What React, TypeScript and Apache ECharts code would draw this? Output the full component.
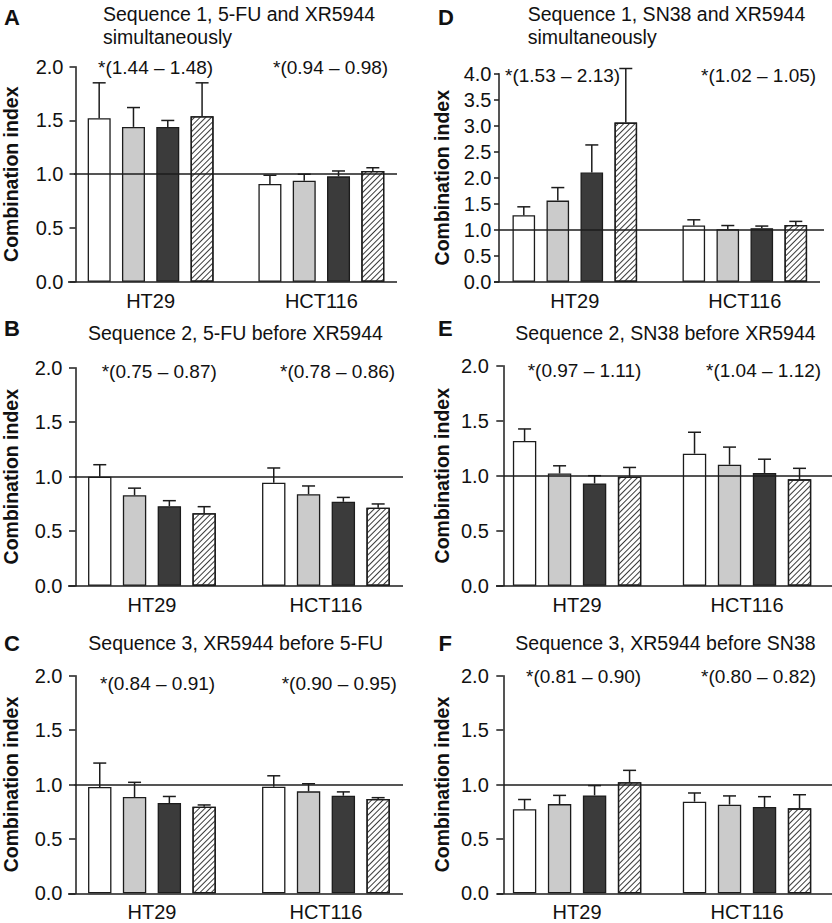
import React, { useEffect, useRef } from "react";
import * as echarts from "echarts";

// ---------- data ----------
const cellLines = ["HT29", "HCT116"];
const yName = "Combination index";
const letters = ["A", "D", "B", "E", "C", "F"];
const titles = [
  "Sequence 1, 5-FU and XR5944\nsimultaneously",
  "Sequence 1, SN38 and XR5944\nsimultaneously",
  "Sequence 2, 5-FU before XR5944",
  "Sequence 2, SN38 before XR5944",
  "Sequence 3, XR5944 before 5-FU",
  "Sequence 3, XR5944 before SN38",
];
const annotations = [
  ["*(1.44 – 1.48)", "*(0.94 – 0.98)"],
  ["*(1.53 – 2.13)", "*(1.02 – 1.05)"],
  ["*(0.75 – 0.87)", "*(0.78 – 0.86)"],
  ["*(0.97 – 1.11)", "*(1.04 – 1.12)"],
  ["*(0.84 – 0.91)", "*(0.90 – 0.95)"],
  ["*(0.81 – 0.90)", "*(0.80 – 0.82)"],
];
const yMax = [2, 4, 2, 2, 2, 2];

// Panel A
const meanA_HT29 = [1.52, 1.44, 1.44, 1.54];
const errA_HT29 = [0.33, 0.18, 0.06, 0.31];
const meanA_HCT116 = [0.91, 0.94, 0.98, 1.03];
const errA_HCT116 = [0.08, 0.06, 0.05, 0.03];
// Panel D
const meanD_HT29 = [1.28, 1.56, 2.1, 3.06];
const errD_HT29 = [0.16, 0.25, 0.53, 1.04];
const meanD_HCT116 = [1.08, 1.01, 1.03, 1.09];
const errD_HCT116 = [0.11, 0.07, 0.04, 0.07];
// Panel B
const meanB_HT29 = [1.0, 0.83, 0.73, 0.665];
const errB_HT29 = [0.11, 0.065, 0.05, 0.06];
const meanB_HCT116 = [0.945, 0.84, 0.77, 0.715];
const errB_HCT116 = [0.135, 0.075, 0.04, 0.035];
// Panel E
const meanE_HT29 = [1.315, 1.02, 0.93, 0.99];
const errE_HT29 = [0.11, 0.07, 0.07, 0.085];
const meanE_HCT116 = [1.2, 1.1, 1.025, 0.967];
const errE_HCT116 = [0.195, 0.16, 0.125, 0.1];
// Panel C
const meanC_HT29 = [0.977, 0.885, 0.83, 0.796];
const errC_HT29 = [0.22, 0.135, 0.06, 0.016];
const meanC_HCT116 = [0.98, 0.937, 0.897, 0.867];
const errC_HCT116 = [0.1, 0.07, 0.035, 0.012];
// Panel F
const meanF_HT29 = [0.772, 0.82, 0.9, 1.02];
const errF_HT29 = [0.09, 0.08, 0.09, 0.11];
const meanF_HCT116 = [0.842, 0.815, 0.793, 0.781];
const errF_HCT116 = [0.08, 0.08, 0.095, 0.125];

const panelMeans = [
  [meanA_HT29, meanA_HCT116],
  [meanD_HT29, meanD_HCT116],
  [meanB_HT29, meanB_HCT116],
  [meanE_HT29, meanE_HCT116],
  [meanC_HT29, meanC_HCT116],
  [meanF_HT29, meanF_HCT116],
];
const panelErrs = [
  [errA_HT29, errA_HCT116],
  [errD_HT29, errD_HCT116],
  [errB_HT29, errB_HCT116],
  [errE_HT29, errE_HCT116],
  [errC_HT29, errC_HCT116],
  [errF_HT29, errF_HCT116],
];

// ---------- layout (pixels) ----------
const LAYOUT = [
  { gridLeft: 63.75, gridWidth: 343, top: 66.7, height: 215, axisX: 74, tickLen: 6, labelMargin: 12, nameGap: 54.5, barW: 23, pitch: 34.3, refStart: 74, refEnd: 397, baseStart: 68, baseEnd: 397, letterX: 4, letterY: 17, titleX: 103, titleY: 25.5, annY: 67, annX: [98, 273] },
  { gridLeft: 489.8, gridWidth: 340, top: 73.7, height: 208, axisX: 499, tickLen: 5, labelMargin: 7.5, nameGap: 47, barW: 22.6, pitch: 34, refStart: 499, refEnd: 824, baseStart: 494, baseEnd: 820, letterX: 438, letterY: 17, titleX: 527.7, titleY: 25.5, annY: 75, annX: [505, 701] },
  { gridLeft: 63.95, gridWidth: 349, top: 367.7, height: 218, axisX: 74.5, tickLen: 6.5, labelMargin: 13, nameGap: 54.5, barW: 23.4, pitch: 34.8, refStart: 74.5, refEnd: 403, baseStart: 68, baseEnd: 403, letterX: 4, letterY: 328.3, titleX: 88, titleY: 332.7, annY: 371.7, annX: [101.7, 280] },
  { gridLeft: 492.1, gridWidth: 349.6, top: 365.7, height: 220, axisX: 503.3, tickLen: 7, labelMargin: 14.5, nameGap: 51.3, barW: 23.4, pitch: 35, refStart: 503.3, refEnd: 832, baseStart: 496, baseEnd: 832, letterX: 438, letterY: 328, titleX: 515.3, titleY: 332.7, annY: 370.7, annX: [527.7, 706] },
  { gridLeft: 63.95, gridWidth: 349, top: 675.7, height: 217.6, axisX: 74.5, tickLen: 6.5, labelMargin: 13, nameGap: 54.5, barW: 23.4, pitch: 34.8, refStart: 74.5, refEnd: 403, baseStart: 68, baseEnd: 403, letterX: 4, letterY: 643.3, titleX: 88.3, titleY: 642.7, annY: 683.3, annX: [100, 281.7] },
  { gridLeft: 492.1, gridWidth: 349.6, top: 675.7, height: 217.6, axisX: 503.3, tickLen: 7, labelMargin: 14.5, nameGap: 51.3, barW: 23.4, pitch: 35, refStart: 503.3, refEnd: 832, baseStart: 497, baseEnd: 832, letterX: 438.5, letterY: 643.3, titleX: 515.3, titleY: 642.7, annY: 676.7, annX: [526, 701] },
];

const FONT = '"Liberation Sans", Arial, Helvetica, sans-serif';
const INK = "#111111";
const EDGE = "#1c1c1c";
const FILLS = ["#ffffff", "#cbcbcb", "#3b3b3b", "#ffffff"];
const HATCH = {
  symbol: "rect",
  symbolSize: 1,
  dashArrayX: [1, 0],
  dashArrayY: [1, 2.4],
  rotation: -Math.PI / 4,
  color: "#3a3a3a",
  backgroundColor: "#ffffff",
};

function buildOption() {
  const grid: any[] = [];
  const xAxis: any[] = [];
  const yAxis: any[] = [];
  const series: any[] = [];
  const graphic: any[] = [];

  LAYOUT.forEach((L, i) => {
    grid.push({ left: L.gridLeft, top: L.top, width: L.gridWidth, height: L.height });
    xAxis.push({
      type: "category",
      gridIndex: i,
      data: cellLines,
      axisLine: { show: false },
      axisTick: { show: false },
      splitLine: { show: false },
      axisLabel: { interval: 0, color: INK, fontSize: 20, fontFamily: FONT, margin: 9 },
    });
    yAxis.push({
      type: "value",
      gridIndex: i,
      min: 0,
      max: yMax[i],
      interval: 0.5,
      offset: L.gridLeft - L.axisX,
      axisLine: { show: true, lineStyle: { color: EDGE, width: 1.5 } },
      axisTick: { show: true, inside: false, length: L.tickLen, lineStyle: { color: EDGE, width: 1.5 } },
      splitLine: { show: false },
      axisLabel: {
        color: INK,
        fontSize: 20,
        fontFamily: FONT,
        margin: L.labelMargin,
        formatter: (v: number) => v.toFixed(1),
      },
      name: yName,
      nameLocation: "middle",
      nameGap: L.nameGap,
      nameTextStyle: { fontWeight: "bold", fontSize: 19.5, color: INK, fontFamily: FONT },
    });

    const means = panelMeans[i];
    const errs = panelErrs[i];
    const gapPct = ((L.pitch - L.barW) / L.barW) * 100 + "%";
    for (let k = 0; k < 4; k++) {
      const s: any = {
        type: "bar",
        xAxisIndex: i,
        yAxisIndex: i,
        data: [means[0][k], means[1][k]],
        barWidth: L.barW,
        barGap: gapPct,
        silent: true,
        z: 2,
        itemStyle: {
          color: FILLS[k],
          borderColor: EDGE,
          borderWidth: 1.3,
        },
      };
      if (k === 3) s.itemStyle.decal = HATCH;
      if (k === 0) {
        s.markLine = {
          silent: true,
          symbol: ["none", "none"],
          label: { show: false },
          lineStyle: { type: "solid", color: EDGE, width: 1.5 },
          emphasis: { disabled: true },
          data: [
            [
              { xAxis: 0, yAxis: 1, x: L.refStart },
              { xAxis: 1, yAxis: 1, x: L.refEnd },
            ],
            [
              { xAxis: 0, yAxis: 0, x: L.baseStart },
              { xAxis: 1, yAxis: 0, x: L.baseEnd },
            ],
          ],
        };
      }
      series.push(s);
    }

    const errData: number[][] = [];
    for (let c = 0; c < 2; c++) {
      for (let k = 0; k < 4; k++) {
        errData.push([c, means[c][k], errs[c][k], k]);
      }
    }
    const pitch = L.pitch;
    series.push({
      type: "custom",
      xAxisIndex: i,
      yAxisIndex: i,
      data: errData,
      encode: { x: 0, y: 1 },
      silent: true,
      clip: false,
      z: 3,
      renderItem: (params: any, api: any) => {
        const cat = api.value(0);
        const mean = api.value(1);
        const err = api.value(2);
        const k = api.value(3);
        const b = api.coord([cat, mean]);
        const t = api.coord([cat, mean + err]);
        const x = b[0] + (k - 1.5) * pitch;
        return {
          type: "group",
          children: [
            { type: "line", shape: { x1: x, y1: b[1], x2: x, y2: t[1] }, style: { stroke: EDGE, lineWidth: 1.5 } },
            { type: "line", shape: { x1: x - 6.5, y1: t[1], x2: x + 6.5, y2: t[1] }, style: { stroke: EDGE, lineWidth: 1.5 } },
          ],
        };
      },
    });

    graphic.push({
      type: "text",
      x: L.letterX,
      y: L.letterY,
      silent: true,
      style: {
        text: letters[i],
        font: `bold 22px ${FONT}`,
        fill: INK,
        textAlign: "left",
        textVerticalAlign: "middle",
        align: "left",
        verticalAlign: "middle",
      },
    });
    graphic.push({
      type: "text",
      x: L.titleX,
      y: L.titleY,
      silent: true,
      style: {
        text: titles[i],
        font: `19.5px ${FONT}`,
        lineHeight: 23,
        fill: INK,
        textAlign: "left",
        textVerticalAlign: "middle",
        align: "left",
        verticalAlign: "middle",
      },
    });
    for (let c = 0; c < 2; c++) {
      graphic.push({
        type: "text",
        x: L.annX[c],
        y: L.annY,
        silent: true,
        style: {
          text: annotations[i][c],
          font: `19px ${FONT}`,
          fill: INK,
          textAlign: "left",
          textVerticalAlign: "middle",
          align: "left",
          verticalAlign: "middle",
        },
      });
    }
  });

  return {
    animation: false,
    backgroundColor: "#ffffff",
    grid,
    xAxis,
    yAxis,
    series,
    graphic: { elements: graphic },
  };
}

export default function App() {
  const ref = useRef<HTMLDivElement>(null);
  useEffect(() => {
    document.body.style.margin = "0";
    if (!ref.current) return;
    const chart = echarts.init(ref.current, undefined, { renderer: "svg" });
    chart.setOption(buildOption() as any);
    return () => {
      chart.dispose();
    };
  }, []);
  return <div ref={ref} style={{ width: 832, height: 923 }} />;
}
